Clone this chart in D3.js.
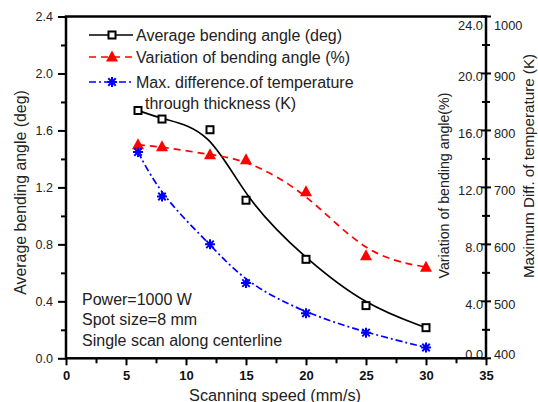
<!DOCTYPE html>
<html>
<head>
<meta charset="utf-8">
<script src="https://cdn.jsdelivr.net/npm/d3@7.9.0/dist/d3.min.js"></script>
<style>
  body { margin: 0; background: #fff; }
  svg { display: block; font-family: Arial, "Liberation Sans", sans-serif; }
</style>
</head>
<body>
<div id="viz"></div>
<script>
// data
const speeds = [6, 8, 12, 15, 20, 25, 30];
const avgAngle = [1.74, 1.68, 1.605, 1.11, 0.695, 0.37, 0.215];
const angleVariation = [15.0, 14.85, 14.3, 13.95, 11.7, 7.2, 6.4];
const tempDiff = [762, 684, 600, 532, 479, 445, 419];

const xTicks = [0, 5, 10, 15, 20, 25, 30, 35];
const leftTicks = [0, 0.4, 0.8, 1.2, 1.6, 2.0, 2.4];
const pctTicks = [0, 4, 8, 12, 16, 20, 24];
const tempTicks = [400, 500, 600, 700, 800, 900, 1000];

const legendLabels = [
  ["Average bending angle (deg)"],
  ["Variation of bending angle (%)"],
  ["Max. difference.of temperature", "through thickness (K)"]
];
const notes = ["Power=1000 W", "Spot size=8 mm", "Single scan along centerline"];

const width = 538, height = 402;
const plotLeft = 66, plotRight = 486, plotTop = 16.5, plotBottom = 358.3;
const textColor = "#222";

const svg = d3.select("#viz").append("svg")
  .attr("width", width)
  .attr("height", height);

const x = d3.scaleLinear().domain([0, 35]).range([plotLeft, plotRight]);
const yAngle = d3.scaleLinear().domain([0, 2.4]).range([plotBottom, plotTop]);
const yPct = d3.scaleLinear().domain([0, 24]).range([plotBottom, plotTop]);
const yTemp = d3.scaleLinear().domain([400, 1000]).range([plotBottom, plotTop]);

// marker shapes
function square(g, cx, cy) {
  g.append("rect")
    .attr("x", cx - 3.5).attr("y", cy - 3.5)
    .attr("width", 7).attr("height", 7)
    .attr("fill", "#fff").attr("stroke", "#000").attr("stroke-width", 2);
}
function triangle(g, cx, cy) {
  g.append("path")
    .attr("d", `M${cx},${cy - 6.5}L${cx + 6},${cy + 4.5}L${cx - 6},${cy + 4.5}Z`)
    .attr("fill", "#ff0000");
}
function asterisk(g, cx, cy) {
  const r = 5;
  let d = `M${cx - r},${cy}L${cx + r},${cy}M${cx},${cy - r}L${cx},${cy + r}`;
  d += `M${cx - r * 0.75},${cy - r * 0.75}L${cx + r * 0.75},${cy + r * 0.75}`;
  d += `M${cx - r * 0.75},${cy + r * 0.75}L${cx + r * 0.75},${cy - r * 0.75}`;
  g.append("path").attr("d", d).attr("stroke", "#0000ff").attr("stroke-width", 2).attr("fill", "none");
}

const series = [
  { values: avgAngle, y: yAngle, color: "#000", dash: null, marker: square },
  { values: angleVariation, y: yPct, color: "#ff0000", dash: "7,5", marker: triangle },
  { values: tempDiff, y: yTemp, color: "#0000ff", dash: "7,3,2,3", marker: asterisk }
];

const plot = svg.append("g");
series.forEach(s => {
  const pts = speeds.map((v, i) => [x(v), s.y(s.values[i])]);
  plot.append("path")
    .attr("d", d3.line().curve(d3.curveBasis)(pts))
    .attr("fill", "none")
    .attr("stroke", s.color)
    .attr("stroke-width", 1.7)
    .attr("stroke-dasharray", s.dash);
  pts.forEach(p => s.marker(plot, p[0], p[1]));
});

// left axis
const leftAxis = svg.append("g").attr("transform", `translate(${plotLeft},0)`)
  .call(d3.axisLeft(yAngle).tickValues(leftTicks).tickFormat(d3.format(".1f")).tickSize(8).tickPadding(5));
leftAxis.append("g")
  .call(d3.axisLeft(yAngle).tickValues(d3.range(0.2, 2.4, 0.4)).tickFormat("").tickSize(5));

// bottom axis
const bottomAxis = svg.append("g").attr("transform", `translate(0,${plotBottom})`)
  .call(d3.axisBottom(x).tickValues(xTicks).tickFormat(d3.format("d")).tickSize(7).tickPadding(5));
bottomAxis.append("g")
  .call(d3.axisBottom(x).tickValues(d3.range(2.5, 35, 5)).tickFormat("").tickSize(5));

// right axis: ticks cross the line
const rightAxis = svg.append("g").attr("transform", `translate(${plotRight},0)`);
rightAxis.selectAll(".major").data(pctTicks).join("line")
  .attr("x1", -5).attr("x2", 5)
  .attr("y1", d => yPct(d)).attr("y2", d => yPct(d))
  .attr("stroke", "#000").attr("stroke-width", 2);
rightAxis.selectAll(".minor").data(d3.range(2, 24, 4)).join("line")
  .attr("x1", -4).attr("x2", 4)
  .attr("y1", d => yPct(d)).attr("y2", d => yPct(d))
  .attr("stroke", "#000").attr("stroke-width", 2);
const endShift = (i, n) => i === 0 ? -4 : (i === n - 1 ? 9 : 3);
rightAxis.selectAll(".pct").data(pctTicks).join("text")
  .attr("x", -3)
  .attr("y", (d, i) => yPct(d) + endShift(i, pctTicks.length))
  .attr("dy", "0.35em")
  .attr("text-anchor", "end")
  .text(d => d3.format(".1f")(d));
rightAxis.selectAll(".temp").data(tempTicks).join("text")
  .attr("x", 8)
  .attr("y", (d, i) => yTemp(d) + endShift(i, tempTicks.length))
  .attr("dy", "0.35em")
  .text(d => d);

svg.selectAll(".tick text").attr("fill", textColor).attr("font-size", 12.5);
bottomAxis.selectAll("text").attr("font-weight", "bold").attr("font-size", 13).attr("fill", "#111");
rightAxis.selectAll("text").attr("fill", textColor).attr("font-size", 12.8);
svg.selectAll(".domain").remove();
svg.selectAll(".tick line").attr("stroke", "#000").attr("stroke-width", 2);

// frame
svg.append("rect")
  .attr("x", plotLeft).attr("y", plotTop)
  .attr("width", plotRight - plotLeft).attr("height", plotBottom - plotTop)
  .attr("fill", "none").attr("stroke", "#000").attr("stroke-width", 2.5);

// axis titles
svg.append("text")
  .attr("transform", "translate(20,192.5) rotate(-90)")
  .attr("text-anchor", "middle").attr("dy", "0.35em")
  .attr("font-size", 15.9).attr("fill", textColor)
  .text("Average bending angle (deg)");
svg.append("text")
  .attr("transform", "translate(444.5,185.5) rotate(-90)")
  .attr("text-anchor", "middle").attr("dy", "0.35em")
  .attr("font-size", 14.2).attr("fill", textColor)
  .text("Variation of bending angle(%)");
svg.append("text")
  .attr("transform", "translate(529,166) rotate(-90)")
  .attr("text-anchor", "middle").attr("dy", "0.35em")
  .attr("font-size", 15.2).attr("fill", textColor)
  .text("Maximum Diff. of temperature (K)");
svg.append("text")
  .attr("x", 275).attr("y", 400.5)
  .attr("text-anchor", "middle")
  .attr("font-size", 16.3).attr("fill", textColor)
  .text("Scanning speed (mm/s)");

// legend
const legendY = [35, 57, 82];
const legend = svg.append("g");
series.forEach((s, i) => {
  const ly = legendY[i];
  legend.append("line")
    .attr("x1", 89).attr("x2", 133).attr("y1", ly).attr("y2", ly)
    .attr("stroke", s.color).attr("stroke-width", 1.7)
    .attr("stroke-dasharray", s.dash);
  s.marker(legend, 112, ly);
  legendLabels[i].forEach((t, j) => {
    legend.append("text")
      .attr("x", j === 0 ? 136 : 145).attr("y", ly + j * 21)
      .attr("dy", "0.35em")
      .attr("font-size", 16).attr("fill", textColor)
      .text(t);
  });
});

// annotation
svg.selectAll(".note").data(notes).join("text")
  .attr("x", 82).attr("y", (d, i) => 299 + i * 20.5)
  .attr("dy", "0.35em")
  .attr("font-size", 16).attr("fill", textColor)
  .text(d => d);
</script>
</body>
</html>
